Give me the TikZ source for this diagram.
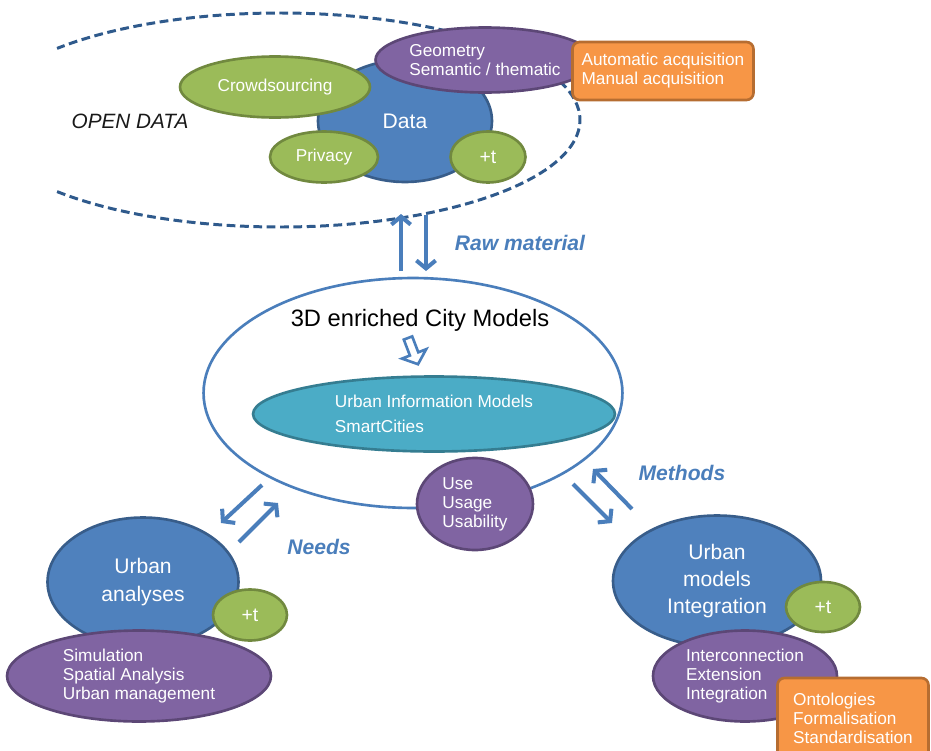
\documentclass[tikz,border=0pt]{standalone}
\usepackage{fontspec}
\setmainfont{Liberation Sans}
\usepackage{tikz}
\usetikzlibrary{positioning,shapes.geometric,arrows.meta}
\definecolor{c_blue}{HTML}{4F81BD}
\definecolor{c_blueline}{HTML}{385D8A}
\definecolor{c_dash}{HTML}{2F5A8C}
\definecolor{c_green}{HTML}{9BBB59}
\definecolor{c_greenline}{HTML}{71893F}
\definecolor{c_purple}{HTML}{8064A2}
\definecolor{c_purpleline}{HTML}{5C4776}
\definecolor{c_teal}{HTML}{4BACC6}
\definecolor{c_tealline}{HTML}{357D91}
\definecolor{c_orange}{HTML}{F79646}
\definecolor{c_orangeline}{HTML}{B66D31}
\definecolor{c_arrow}{HTML}{4A7EBB}
\tikzset{c-ellipse/.style={ellipse, draw, line width=1.5pt, inner sep=0pt, text=white, align=left, font=\fontsize{9.8}{10.8}\selectfont},
c-blue/.style={c-ellipse, fill=c_blue, draw=c_blueline, align=center, font=\fontsize{12}{15.5}\selectfont},
c-green/.style={c-ellipse, fill=c_green, draw=c_greenline},
c-purple/.style={c-ellipse, fill=c_purple, draw=c_purpleline},
c-rectangle/.style={rectangle, rounded corners=4pt, line width=1.5pt, inner sep=0pt, fill=c_orange, draw=c_orangeline, text=white, align=left, font=\fontsize{9.8}{10.8}\selectfont},
arrow/.style={line width=2.3pt, draw=c_arrow, -{Straight Barb[length=4.5pt, width=11pt]}},
c-label/.style={text=c_arrow, font=\fontsize{12}{14}\selectfont\bfseries\itshape}}

\begin{document}
\begin{tikzpicture}[x=0.02cm, y=-0.02cm]
\useasboundingbox (0,0) rectangle (931,751);
% open data
\draw [c_dash, line width=1.7pt, dash pattern=on 5pt off 2.6pt]
  ([shift={(138:300 and 107)}]280,120) arc [start angle=138, end angle=-138, x radius=300, y radius=107];
\node (opendata) at (130,121) [font=\fontsize{11.8}{14}\selectfont\itshape, text=black!90] {OPEN DATA};
\node (data) at (405,121) [c-blue, minimum width=3.48cm, minimum height=2.44cm] {Data};
\node (crowd) at (275,87) [c-green, minimum width=3.80cm, minimum height=1.22cm] {Crowdsourcing};
\node (geom) at (485,60) [c-purple, minimum width=4.38cm, minimum height=1.30cm] {
Geometry\\
Semantic / thematic
};
\node (privacy) at (324,157) [c-green, minimum width=2.16cm, minimum height=1.02cm] {Privacy};
\node (tdata) at (488,157) [c-green, minimum width=1.50cm, minimum height=1.02cm, font=\fontsize{11}{12}\selectfont] {+t};
\node (acq) at (663,71) [c-rectangle, minimum width=3.62cm, minimum height=1.16cm] {
Automatic acquisition\\
Manual acquisition
};

% city models
\node (city) at (413,393) [ellipse, draw=c_arrow, line width=1.5pt, fill=white, minimum width=8.38cm, minimum height=4.60cm] {};
\node (cityname) at (420,320) [font=\fontsize{13.5}{16}\selectfont, text=black] {3D enriched City Models};
\draw [c_arrow, line width=1.5pt, fill=white, line join=miter]
  (403.8,339.6) -- (412.2,336.4) -- (418.3,352.3) -- (426.2,349.2) -- (418.0,364.2) -- (402.0,358.6) -- (409.9,355.5) -- cycle;
\node (uim) at (434,414) [c-ellipse, fill=c_teal, draw=c_tealline, minimum width=7.24cm, minimum height=1.50cm, font=\fontsize{9.8}{14.2}\selectfont] {
Urban Information Models\\
SmartCities
};
\node (use) at (475,504) [c-purple, minimum width=2.32cm, minimum height=1.84cm] {
Use\\
Usage\\
Usability
};

% raw material
\coordinate (raw-up-s) at (401,271);
\coordinate (raw-up-e) at (401,214);
\coordinate (raw-dn-s) at (426,215);
\coordinate (raw-dn-e) at (426,271);
\draw [arrow] (raw-up-s) -- (raw-up-e);
\draw [arrow] (raw-dn-s) -- (raw-dn-e);
\node (raw) at (520,243) [c-label] {Raw material};

% needs
\coordinate (needs-dn-s) at (262,485);
\coordinate (needs-dn-e) at (221,523);
\coordinate (needs-up-s) at (239,542);
\coordinate (needs-up-e) at (278,503);
\draw [arrow] (needs-dn-s) -- (needs-dn-e);
\draw [arrow] (needs-up-s) -- (needs-up-e);
\node (needs) at (319,547) [c-label] {Needs};

% methods
\coordinate (meth-up-s) at (632,509);
\coordinate (meth-up-e) at (593,469);
\coordinate (meth-dn-s) at (573,484);
\coordinate (meth-dn-e) at (612,523);
\draw [arrow] (meth-up-s) -- (meth-up-e);
\draw [arrow] (meth-dn-s) -- (meth-dn-e);
\node (methods) at (682,473) [c-label] {Methods};

% urban analyses
\node (analyses) at (143,582) [c-blue, minimum width=3.82cm, minimum height=2.58cm] {
Urban\\
analyses
};
\node (analyses-list) at (139,676) [c-purple, minimum width=5.28cm, minimum height=1.82cm] {
Simulation\\
Spatial Analysis\\
Urban management
};
\node (analyses-t) at (250,615) [c-green, minimum width=1.48cm, minimum height=1.02cm, font=\fontsize{11}{12}\selectfont] {+t};

% urban models integration
\node (integ) at (717,581) [c-blue, minimum width=4.16cm, minimum height=2.62cm] {
Urban\\
models\\
Integration
};
\node (integ-list) at (745,676) [c-purple, minimum width=3.68cm, minimum height=1.82cm] {
Interconnection\\
Extension\\
Integration
};
\node (integ-t) at (823,607) [c-green, minimum width=1.48cm, minimum height=1.00cm, font=\fontsize{11}{12}\selectfont] {+t};
\node (stand) at (853,718) [c-rectangle, minimum width=3.02cm, minimum height=1.60cm] {
Ontologies\\
Formalisation\\
Standardisation
};
\end{tikzpicture}
\end{document}
